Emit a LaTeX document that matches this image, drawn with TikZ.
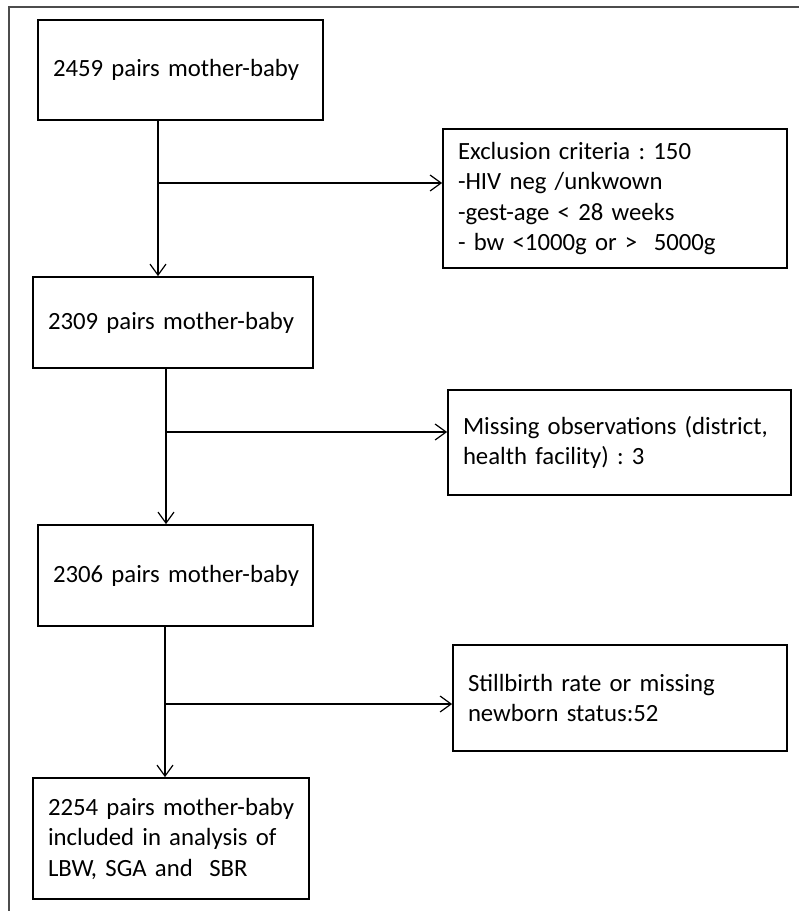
\documentclass[tikz,border=0pt]{standalone}
\usepackage{fontspec}
\setmainfont{Carlito}
\usetikzlibrary{arrows.meta}
\frenchspacing
\begin{document}
\begin{tikzpicture}[x=1pt,y=-1pt,
  box/.style={draw, line width=1.8pt, rectangle, align=left, inner xsep=15pt, inner ysep=0pt,
    font=\fontsize{24.75}{30.5}\selectfont\frenchspacing},
  con/.style={line width=1.2pt},
  arr/.style={line width=1.2pt, -{Straight Barb[length=11pt,width=16pt,line width=1.2pt]}},
  frame/.style={line width=1.1pt, black!70}]
\useasboundingbox (0,0) rectangle (799,911);
\draw[frame] (9,911) -- (9,7) -- (799,7);

\node[box, text width=255pt, minimum height=100pt] (b1) at (180.5,70) {\mbox{2459 pairs mother-baby}};
\node[box, text width=250pt, minimum height=91pt] (b2) at (173,322.5) {\mbox{2309 pairs mother-baby}};
\node[box, text width=245pt, minimum height=101pt] (b3) at (175.5,575.5) {\mbox{2306 pairs mother-baby}};
\node[box, text width=246pt, minimum height=121pt] (b4) at (171,838.5) {\mbox{2254 pairs mother-baby}\\included in analysis of\\LBW, SGA and~ SBR};

\node[box, text width=314pt, minimum height=139pt] (e1) at (615,198.5) {Exclusion criteria : 150\\-HIV neg /unkwown\\-gest-age < 28 weeks\\- bw <1000g or >~ 5000g};
\node[box, text width=313pt, minimum height=105pt] (e2) at (619.5,442.5) {\mbox{Missing observations (district,}\\health facility) : 3};
\node[box, text width=304pt, minimum height=106pt] (e3) at (620,698) {Stillbirth rate or missing\\newborn status:52};

\coordinate (j1) at (158,183);
\coordinate (j2) at (166,432);
\coordinate (j3) at (165,704);

\draw[arr] (b1.south -| j1) -- (b2.north -| j1);
\draw[arr] (j1) -- (e1.west |- j1);
\draw[arr] (b2.south -| j2) -- (b3.north -| j2);
\draw[arr] (j2) -- (e2.west |- j2);
\draw[arr] (b3.south -| j3) -- (b4.north -| j3);
\draw[arr] (j3) -- (e3.west |- j3);
\end{tikzpicture}
\end{document}
